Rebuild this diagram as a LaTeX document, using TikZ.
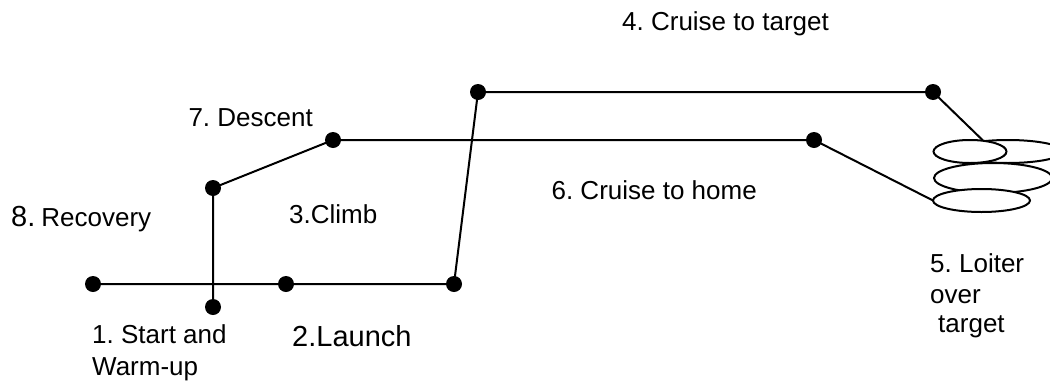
\documentclass[tikz,border=0pt]{standalone}
\usepackage{fontspec}
\newfontfamily\lbl{Liberation Sans}
\frenchspacing
\usetikzlibrary{shapes.geometric}
\begin{document}
\begin{tikzpicture}[x=1pt,y=-1pt,
  dot/.style={circle,fill=black,inner sep=0pt,minimum size=16pt},
  path/.style={line width=2pt,black},
  loop/.style={line width=2pt,black,fill=white},
  txt/.style={font=\lbl\frenchspacing\fontsize{26}{30}\selectfont,inner sep=0pt},
  big/.style={font=\lbl\frenchspacing\fontsize{29}{33}\selectfont,inner sep=0pt}]
\useasboundingbox (0,0) rectangle (1050,381);
% nodes
\node[dot] (a) at (93,284) {};
\node[dot] (b) at (286,284) {};
\node[dot] (c) at (454,284) {};
\node[dot] (d) at (478,92) {};
\node[dot] (e) at (933,92) {};
\node[dot] (s) at (213,307) {};
\node[dot] (v) at (213,188) {};
\node[dot] (w) at (333,140) {};
\node[dot] (h) at (814,140) {};
\coordinate (lt) at (983,140.5);
\coordinate (lb) at (933,200.5);
% paths
\draw[path] (a.center) -- (b.center) -- (c.center) -- (d.center) -- (e.center) -- (lt);
\draw[path] (s.center) -- (v.center) -- (w.center) -- (h.center) -- (lb);
% loiter ellipses
\draw[loop] (1008,151.5) ellipse [x radius=55, y radius=11.5];
\draw[loop] (970,151.5) ellipse [x radius=36.5, y radius=11.5];
\draw[loop] (993,178) ellipse [x radius=59, y radius=15];
\draw[loop] (981.5,200.5) ellipse [x radius=48.5, y radius=11.5];
% labels
\node[txt,anchor=base west] (t4) at (622,30) {4. Cruise to target};
\node[txt,anchor=base east] (t7) at (313,126) {7. Descent};
\node[anchor=base west,inner sep=0pt] (t8) at (11,226) {{\lbl\fontsize{29}{33}\selectfont 8.}\hspace{6pt}{\lbl\fontsize{26}{30}\selectfont Recovery}};
\node[txt,anchor=base west] (t3) at (289,223) {3.Climb};
\node[txt,anchor=base west] (t1a) at (92,343) {1. Start and};
\node[txt,anchor=base west] (t1b) at (92,375) {Warm-up};
\node[big,anchor=base west] (t2) at (292,346) {2.Launch};
\node[txt,anchor=base east] (t6) at (757,199) {6. Cruise to home};
\node[txt,anchor=base west] (t5a) at (930,272) {5. Loiter};
\node[txt,anchor=base west] (t5b) at (930,303) {over};
\node[txt,anchor=base west] (t5c) at (938,332) {target};
\end{tikzpicture}
\end{document}
